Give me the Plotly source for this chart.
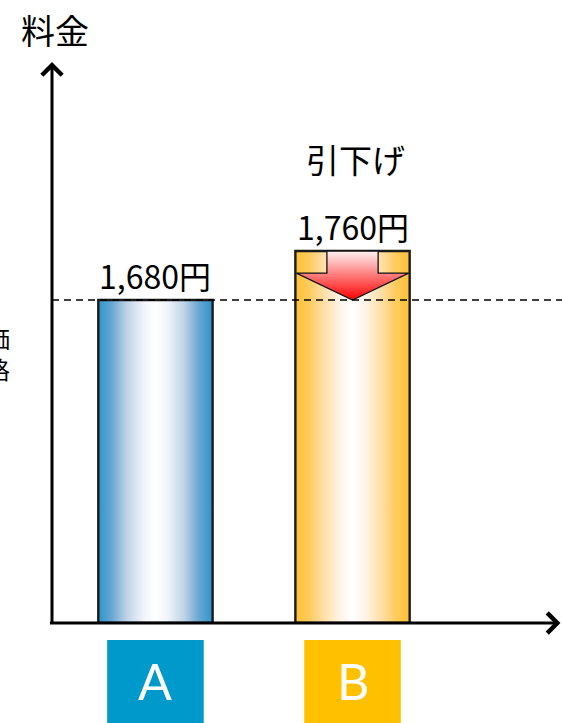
import plotly.graph_objects as go

# ---- data ----
categories = ["A", "B"]
prices = [1680, 1760]
price_labels = [f"{v:,}円" for v in prices]
y_title = "料金"
side_label = "価格"
change_label = "引下げ"

# ---- styles ----
Y_RANGE = [1152.7, 2068.6]
X_RANGE = [-0.525, 2.063]
BAR_W = 0.58
bar_scales = [
    [[0, "#2C94CB"], [0.12, "#6AA7D2"], [0.25, "#BFD3E7"], [0.4, "#F1F5FA"],
     [0.5, "#FFFFFF"], [0.6, "#F1F5FA"], [0.75, "#BFD3E7"], [0.88, "#6AA7D2"],
     [1, "#2C94CB"]],
    [[0, "#FFC133"], [0.12, "#FFCB5E"], [0.25, "#FFDFA8"], [0.4, "#FFF6EA"],
     [0.5, "#FFFFFF"], [0.6, "#FFF6EA"], [0.75, "#FFDFA8"], [0.88, "#FFCB5E"],
     [1, "#FFC133"]],
]
box_colors = ["#0099CC", "#FFC000"]
FONT = "Noto Sans CJK JP"

fig = go.Figure()

# gradient bars
for i, (cat, v) in enumerate(zip(categories, prices)):
    x0, x1 = i - BAR_W / 2, i + BAR_W / 2
    yb = Y_RANGE[0]
    fig.add_trace(go.Scatter(
        x=[x0, x1, x1, x0, x0], y=[yb, yb, v, v, yb],
        mode="lines", fill="toself",
        line=dict(color="#1a1a1a", width=2.4),
        fillgradient=dict(type="horizontal", colorscale=bar_scales[i]),
        hoverinfo="skip", showlegend=False,
    ))

# down arrow inside B (from B price to A price)
c = 1
top, tip = prices[1], prices[0]
neck = top - 0.45 * (top - tip)
sh, hh = 0.13, 0.285
ax_ = [c - sh, c + sh, c + sh, c + hh, c, c - hh, c - sh, c - sh]
ay_ = [top, top, neck, neck, tip, neck, neck, top]
fig.add_trace(go.Scatter(
    x=ax_, y=ay_, mode="lines", fill="toself",
    line=dict(color="#111111", width=1.3),
    fillgradient=dict(type="vertical", colorscale=[[0, "#FF0000"], [1, "#FFF2F2"]]),
    hoverinfo="skip", showlegend=False,
))

shapes = []
# dashed reference line at A price
shapes.append(dict(type="line", xref="paper", yref="y", x0=0, x1=1,
                   y0=prices[0], y1=prices[0],
                   line=dict(color="black", width=1.6, dash="7px,5px"), layer="above"))
# category label boxes
for i, cat in enumerate(categories):
    shapes.append(dict(type="rect", xref="x", yref="paper",
                       x0=i - 0.245, x1=i + 0.245, y0=-0.2, y1=-0.0303,
                       fillcolor=box_colors[i], line=dict(width=0), layer="above"))

annotations = []
# axes arrows (tail offsets in pixels)
annotations.append(dict(xref="paper", yref="paper", x=0, y=1, ax=0, ay=563,
                        text="", showarrow=True,
                        arrowhead=4, arrowwidth=3, arrowsize=1.3, arrowcolor="black"))
annotations.append(dict(xref="paper", yref="paper", x=0.997, y=0, ax=-512, ay=0,
                        text="", showarrow=True,
                        arrowhead=4, arrowwidth=3, arrowsize=1.3, arrowcolor="black"))
# price labels
for i, (v, t) in enumerate(zip(prices, price_labels)):
    annotations.append(dict(x=i, y=v, xref="x", yref="y", text=t, showarrow=False,
                            yanchor="middle", yshift=25,
                            font=dict(family=FONT, size=32, color="black")))
# change label
annotations.append(dict(x=1, y=prices[1], xref="x", yref="y", text=change_label,
                        showarrow=False, yanchor="middle", yshift=92, xshift=3,
                        font=dict(family=FONT, size=33, color="black")))
# y title
annotations.append(dict(x=0.006, y=1.0588, xref="paper", yref="paper", text=y_title,
                        showarrow=False, xanchor="center", yanchor="middle",
                        font=dict(family=FONT, size=34, color="black")))
# side label (clipped at left edge, as in the original)
annotations.append(dict(x=-0.078, y=0.481, xref="paper", yref="paper",
                        text="<br>".join(side_label), showarrow=False,
                        xanchor="right", yanchor="middle",
                        font=dict(family=FONT, size=24, color="black")))
# category letters
for i, cat in enumerate(categories):
    annotations.append(dict(x=i, y=-0.103, xref="x", yref="paper", text=cat,
                            showarrow=False, yanchor="middle",
                            font=dict(family="Lato", size=50, color="white")))

fig.update_layout(
    width=562, height=723,
    margin=dict(l=52, r=0, t=62, b=100),
    paper_bgcolor="white", plot_bgcolor="white",
    xaxis=dict(range=X_RANGE, visible=False, fixedrange=True),
    yaxis=dict(range=Y_RANGE, visible=False, fixedrange=True),
    shapes=shapes, annotations=annotations,
    showlegend=False,
)

fig.write_html("out.html", config={"displayModeBar": False})
